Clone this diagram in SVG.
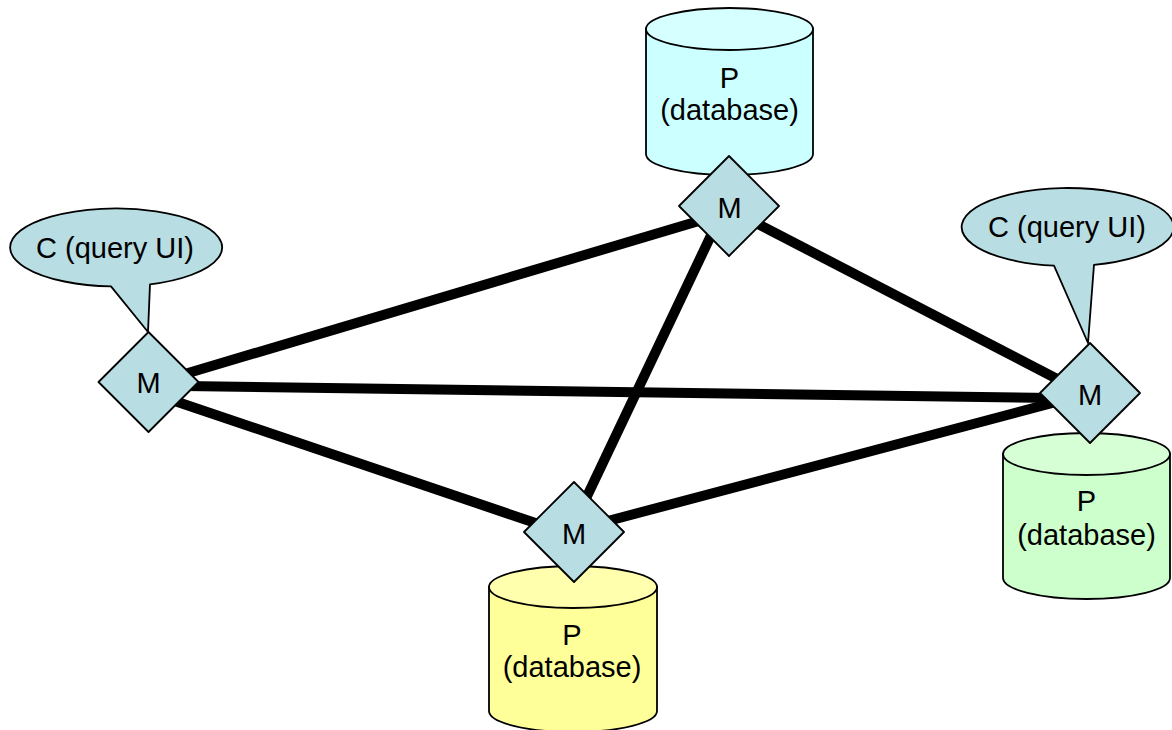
<svg xmlns="http://www.w3.org/2000/svg" width="1172" height="730" viewBox="0 0 1172 730">
<style>
text{font-family:"Liberation Sans",Arial,sans-serif;font-size:29px;fill:#000;text-anchor:middle}
.o{stroke:#000;stroke-width:1.800;stroke-linejoin:round}
.m{fill:#b8dde2}
.c{stroke:#000;stroke-width:10;fill:none}
</style>
<rect width="1172" height="730" fill="#fff"/>
<g id="db-top">
<path class="o" fill="#ccffff" d="M646 29V154A83.500 21 0 0 0 813 154V29Z"/>
<ellipse class="o" fill="#d6ffff" cx="729.500" cy="29" rx="83.500" ry="21"/>
<text x="729.500" y="88">P</text><text x="729.500" y="120">(database)</text>
</g>
<g id="db-right">
<path class="o" fill="#ccffcc" d="M1003 454V578A83.500 21 0 0 0 1170 578V454Z"/>
<ellipse class="o" fill="#d6ffd6" cx="1086.500" cy="454" rx="83.500" ry="21"/>
<text x="1086.500" y="511">P</text><text x="1086.500" y="545">(database)</text>
</g>
<g id="db-bottom">
<path class="o" fill="#ffff99" d="M489 587V711A84 21 0 0 0 657 711V587Z"/>
<ellipse class="o" fill="#ffffad" cx="573" cy="587" rx="84" ry="21"/>
<text x="572" y="645">P</text><text x="572" y="677">(database)</text>
</g>
<g id="connectors">
<line class="c" x1="148" y1="385" x2="729" y2="212"/>
<line class="c" x1="148" y1="385.500" x2="1090" y2="398.500"/>
<line class="c" x1="148" y1="392" x2="574" y2="536"/>
<line class="c" x1="729" y1="209" x2="1090" y2="396"/>
<line class="c" x1="725" y1="206" x2="570" y2="532"/>
<line class="c" x1="574" y1="530" x2="1090" y2="393"/>
</g>
<g id="callout-left">
<path class="o m" d="M111 286.400A106 39 0 1 1 150 284.400L148 332Z"/>
<text x="115" y="258">C (query UI)</text>
</g>
<g id="callout-right">
<path class="o m" d="M1054 265.700A106 39 0 1 1 1094 264.800L1088 343Z"/>
<text x="1067" y="237">C (query UI)</text>
</g>
<g id="m-left"><polygon class="o m" points="148.500,332 198.500,382 148.500,432 98.500,382"/><text x="148.500" y="393">M</text></g>
<g id="m-top"><polygon class="o m" points="729,156 779,206 729,256 679,206"/><text x="729.500" y="218">M</text></g>
<g id="m-right"><polygon class="o m" points="1090,343 1140,393 1090,443 1040,393"/><text x="1090" y="405">M</text></g>
<g id="m-bottom"><polygon class="o m" points="574,482 624,532 574,582 524,532"/><text x="574" y="544">M</text></g>
</svg>
